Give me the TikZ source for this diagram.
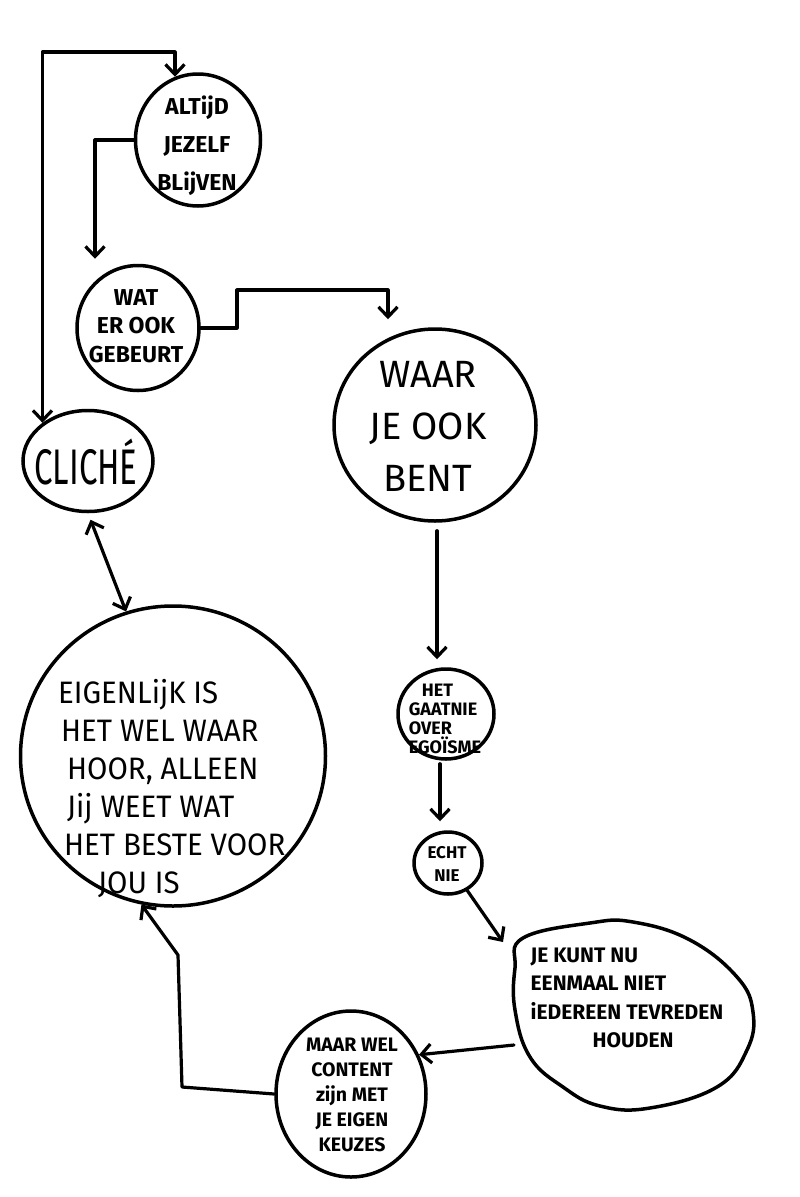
\documentclass[tikz,border=0pt]{standalone}
\usepackage{fontspec}
\setmainfont{Fira Sans}
\newfontfamily\handfont{Fira Sans}
\newfontfamily\narrowhand{Fira Sans}[FakeStretch=0.66]
\newfontfamily\bighand{Fira Sans}[FakeStretch=0.95]
\usetikzlibrary{shapes.geometric,arrows.meta,calc}
\begin{document}
\begin{tikzpicture}[x=1pt,y=-1pt,
  bubble/.style={draw=black, line width=3.5pt, ellipse, inner sep=0pt},
  blob/.style={draw=black, line width=3.5pt},
  txt/.style={inner sep=0pt, text=black},
  conn/.style={draw=black, line width=3.2pt, line join=round, line cap=round},
  tip/.style={-{Straight Barb[length=10pt,width=19pt]}},
  tips/.style={{Straight Barb[length=10pt,width=19pt]}-{Straight Barb[length=10pt,width=19pt]}}
]
\fill[white] (0,0) rectangle (800,1197);
\useasboundingbox (0,0) rectangle (800,1197);

% bubbles
\node[bubble, minimum width=125pt, minimum height=132pt] (altijd) at (198,140) {};
\node[bubble, minimum width=122pt, minimum height=125pt] (wat) at (138,328) {};
\node[bubble, minimum width=202pt, minimum height=192pt] (waar) at (435,425) {};
\node[bubble, minimum width=130pt, minimum height=101pt] (cliche) at (88,461) {};
\node[bubble, minimum width=305pt, minimum height=300pt] (eigen) at (173,756) {};
\node[bubble, minimum width=96pt, minimum height=90pt] (het) at (446,714) {};
\node[bubble, minimum width=68pt, minimum height=62pt] (echt) at (448,863) {};
\node[bubble, minimum width=150pt, minimum height=166pt] (maar) at (351,1094) {};
% blob of "je kunt nu"
\draw[blob] plot[smooth cycle, tension=0.7] coordinates {(523,938) (590,923) (633,922) (690,940) (737,977) (753,1012) (747,1050) (717,1087) (650,1108) (600,1106) (563,1087) (530,1057) (515,1010) (515,968)};
\coordinate (jekunt) at (628,1015);
\coordinate (jkw) at (514,1045);

% texts
\node[txt, font=\handfont\bfseries\fontsize{23}{38}\selectfont, align=center] (altijdT) at (197,146) {ALTijD\\JEZELF\\BLijVEN};
\node[txt, font=\handfont\bfseries\fontsize{23}{28.5}\selectfont, align=center] (watT) at (136,326) {WAT\\ER OOK\\GEBEURT};
\node[txt, font=\handfont\fontsize{38}{52}\selectfont, align=center] (waarT) at (428,426) {WAAR\\JE OOK\\BENT};
\node[txt, font=\narrowhand\fontsize{50}{50}\selectfont] (clicheT) at (86,462) {CLICHÉ};
\node[txt, anchor=west, font=\bighand\fontsize{31}{38}\selectfont, align=left] (eigenT) at (58,789) {EIGENLijK IS\\\hspace*{3pt}HET WEL WAAR\\\hspace*{9pt}HOOR, ALLEEN\\\hspace*{9pt}Jij WEET WAT\\\hspace*{6pt}HET BESTE VOOR\\\hspace*{40pt}JOU IS};
\node[txt, font=\handfont\bfseries\fontsize{18}{19}\selectfont, align=left] (hetT) at (445,719) {\hspace*{13pt}HET\\GAATNIE\\OVER\\EGOÏSME};
\node[txt, font=\handfont\bfseries\fontsize{17}{23}\selectfont, align=center] (echtT) at (447,864) {ECHT\\NIE};
\node[txt, font=\handfont\bfseries\fontsize{21}{28.5}\selectfont, align=left] (jekuntT) at (627,998) {JE KUNT NU\\EENMAAL NIET\\iEDEREEN TEVREDEN\\\hspace*{62pt}HOUDEN};
\node[txt, font=\handfont\bfseries\fontsize{19.5}{25}\selectfont, align=center] (maarT) at (352,1095) {MAAR WEL\\CONTENT\\zijn MET\\JE EIGEN\\KEUZES};

% connectors
\coordinate (tl) at (45,52);
\draw[conn, tips] (cliche.140) |- (tl) -| (altijd.110);
\draw[conn, tip] (altijd.180) -| ([xshift=-43pt,yshift=5pt]wat.north);
\coordinate (w1) at (237,290);
\draw[conn, tip] (wat.east) -| (w1) -| ([xshift=-47pt,yshift=8pt]waar.north);
\draw[conn, tip, shorten <=8pt, shorten >=8pt] ([xshift=2pt]waar.south) -- ([xshift=2pt]waar.south |- het.north);
\draw[conn, tip, shorten <=3pt, shorten >=9pt] ([xshift=-6pt]het.south) -- ([xshift=-6pt]het.south |- echt.north);
\coordinate (e1) at (503,942);
\draw[conn, tip] (echt.-55) -- (e1);
\draw[conn, tip] (jkw) -- (maar.30);
\coordinate (m1) at (182,1087);
\coordinate (m2) at (178,955);
\draw[conn, tip] (maar.west) -- (m1) -- (m2) -- (eigen.258);
\draw[conn, tips, shorten <=7pt] (cliche.south) -- (eigen.108);
\end{tikzpicture}
\end{document}
